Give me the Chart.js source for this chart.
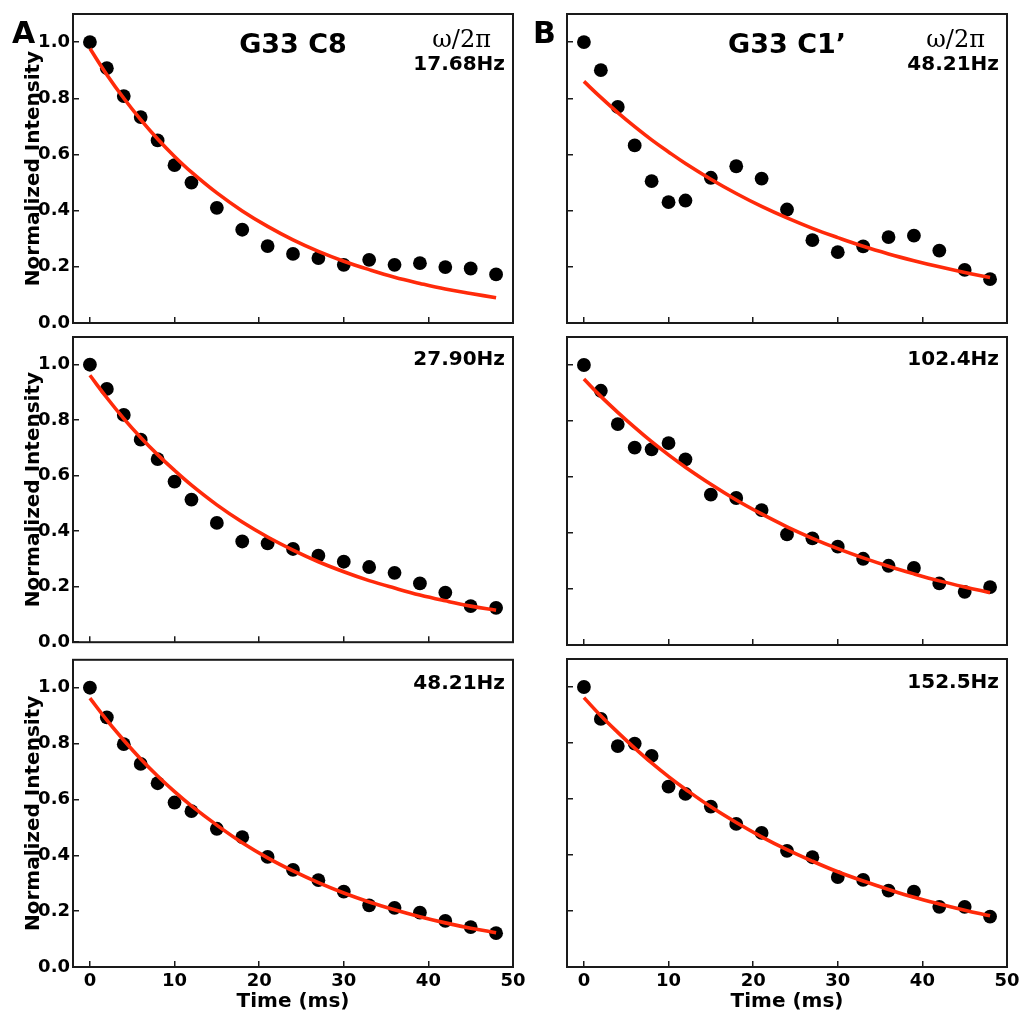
<!DOCTYPE html>
<html>
<head>
<meta charset="utf-8">
<script src="https://cdn.jsdelivr.net/npm/chart.js@4.4.1/dist/chart.umd.min.js"></script>
<style>
  html, body { margin: 0; padding: 0; background: #fff; }
  #wrap { position: relative; width: 1021px; height: 1016px; overflow: hidden; background: #fff; }
  #wrap canvas { position: absolute; }
</style>
</head>
<body>
<div id="wrap">
  <canvas id="a1"></canvas>
  <canvas id="b1"></canvas>
  <canvas id="a2"></canvas>
  <canvas id="b2"></canvas>
  <canvas id="a3"></canvas>
  <canvas id="b3"></canvas>
</div>
<script>
// relaxation delay times (ms)
const times = [0, 2, 4, 6, 8, 10, 12, 15, 18, 21, 24, 27, 30, 33, 36, 39, 42, 45, 48];
const xTicks = [0, 10, 20, 30, 40, 50];
const yTicks = [0, 0.2, 0.4, 0.6, 0.8, 1.0];

// G33 C8
const a1Points = [1.0, 0.907, 0.808, 0.733, 0.65, 0.562, 0.5, 0.41, 0.332, 0.274, 0.246, 0.231, 0.207, 0.225, 0.207, 0.213, 0.199, 0.194, 0.173];
const a1Fit = [0.977, 0.884, 0.80, 0.724, 0.655, 0.593, 0.537, 0.463, 0.399, 0.344, 0.296, 0.255, 0.22, 0.19, 0.163, 0.141, 0.121, 0.105, 0.09];
const a2Points = [1.0, 0.913, 0.819, 0.73, 0.66, 0.579, 0.514, 0.43, 0.363, 0.356, 0.336, 0.312, 0.29, 0.271, 0.25, 0.212, 0.179, 0.13, 0.124];
const a2Fit = [0.962, 0.881, 0.806, 0.738, 0.676, 0.619, 0.566, 0.495, 0.433, 0.379, 0.332, 0.29, 0.254, 0.222, 0.195, 0.17, 0.149, 0.13, 0.115];
const a3Points = [1.0, 0.894, 0.798, 0.727, 0.658, 0.589, 0.558, 0.495, 0.465, 0.394, 0.348, 0.311, 0.27, 0.221, 0.212, 0.195, 0.165, 0.143, 0.121];
const a3Fit = [0.963, 0.884, 0.812, 0.745, 0.684, 0.628, 0.577, 0.508, 0.445, 0.391, 0.344, 0.302, 0.265, 0.233, 0.205, 0.18, 0.158, 0.139, 0.123];

// G33 C1'
const b1Points = [1.0, 0.9, 0.769, 0.632, 0.505, 0.43, 0.436, 0.517, 0.558, 0.514, 0.404, 0.295, 0.252, 0.273, 0.306, 0.311, 0.258, 0.189, 0.156];
const b1Fit = [0.86, 0.803, 0.749, 0.699, 0.652, 0.609, 0.568, 0.512, 0.461, 0.415, 0.374, 0.337, 0.304, 0.273, 0.246, 0.222, 0.2, 0.18, 0.162];
const b2Points = [1.0, 0.908, 0.789, 0.705, 0.699, 0.721, 0.663, 0.537, 0.525, 0.482, 0.395, 0.381, 0.351, 0.308, 0.283, 0.275, 0.22, 0.19, 0.207];
const b2Fit = [0.95, 0.888, 0.831, 0.777, 0.726, 0.679, 0.635, 0.574, 0.518, 0.468, 0.422, 0.381, 0.344, 0.311, 0.281, 0.254, 0.229, 0.207, 0.187];
const b3Points = [1.0, 0.886, 0.789, 0.798, 0.754, 0.644, 0.618, 0.573, 0.511, 0.479, 0.415, 0.392, 0.321, 0.311, 0.273, 0.269, 0.215, 0.215, 0.18];
const b3Fit = [0.962, 0.897, 0.838, 0.782, 0.729, 0.68, 0.635, 0.572, 0.516, 0.465, 0.419, 0.378, 0.34, 0.307, 0.277, 0.249, 0.225, 0.203, 0.183];

const INK = '#1a1a1a';
const RED = '#ff2a0a';
const SANS = '"DejaVu Sans", sans-serif';

// canvas placement so that the plot areas line up with the figure
const cols = [
  { x: 0, w: 540, plotL: 73, plotR: 513 },
  { x: 520, w: 530, plotL: 47, plotR: 487 }
];
const rows = [
  { y: -10, h: 355, plotT: 24, plotB: 333, freqY: 56 },
  { y: 317, h: 345, plotT: 20, plotB: 328, freqY: 28 },
  { y: 640, h: 376, plotT: 19, plotB: 327, freqY: 29 }
];

const framePlugin = {
  id: 'frame',
  afterDatasetsDraw(chart) {
    const { ctx, chartArea: a } = chart;
    ctx.save();
    ctx.strokeStyle = INK;
    ctx.lineWidth = 2;
    ctx.strokeRect(a.left, a.top, a.right - a.left, a.bottom - a.top);
    ctx.restore();
  }
};

const labelPlugin = {
  id: 'panelText',
  afterDraw(chart, args, opts) {
    const { ctx, chartArea: a } = chart;
    ctx.save();
    ctx.fillStyle = '#000';
    ctx.textBaseline = 'alphabetic';
    if (opts.letter) {
      ctx.font = 'bold 30px ' + SANS;
      ctx.textAlign = 'left';
      ctx.fillText(opts.letter, opts.letterX, a.top + 29);
    }
    if (opts.title) {
      ctx.font = 'bold 27px ' + SANS;
      ctx.textAlign = 'center';
      ctx.fillText(opts.title, (a.left + a.right) / 2, a.top + 39);
      ctx.font = '24px "DejaVu Serif", serif';
      ctx.textAlign = 'right';
      ctx.fillText('ω/2π', a.right - 22, a.top + 33);
    }
    ctx.font = 'bold 20px ' + SANS;
    ctx.textAlign = 'right';
    ctx.fillText(opts.freq, a.right - 8, a.top + opts.freqY);
    ctx.restore();
  }
};

function makePanel(id, col, row, points, fit, text) {
  const c = cols[col], r = rows[row];
  const el = document.getElementById(id);
  el.width = c.w; el.height = r.h;
  el.style.left = c.x + 'px'; el.style.top = r.y + 'px';
  const showY = col === 0;
  const showX = row === 2;

  return new Chart(el.getContext('2d'), {
    type: 'scatter',
    data: {
      datasets: [
        {
          label: 'fit',
          data: times.map((t, i) => ({ x: t, y: fit[i] })),
          showLine: true,
          borderColor: RED,
          borderWidth: 3.6,
          tension: 0.4,
          pointRadius: 0,
          order: 0
        },
        {
          label: 'data',
          data: times.map((t, i) => ({ x: t, y: points[i] })),
          backgroundColor: '#000',
          borderWidth: 0,
          pointRadius: 6.9,
          order: 1
        }
      ]
    },
    options: {
      responsive: false,
      animation: false,
      layout: { padding: { left: 0, top: r.plotT, right: c.w - c.plotR, bottom: 0 } },
      plugins: {
        legend: { display: false },
        tooltip: { enabled: false },
        panelText: Object.assign({ freqY: r.freqY }, text)
      },
      scales: {
        x: {
          type: 'linear',
          min: -2,
          max: 50,
          afterBuildTicks: s => { s.ticks = xTicks.map(v => ({ value: v })); },
          afterFit: s => { s.height = r.h - r.plotB; },
          grid: { drawOnChartArea: false, drawTicks: true, tickLength: -6, color: INK, lineWidth: 1.5 },
          border: { display: false },
          ticks: {
            display: showX,
            padding: 10,
            color: '#000',
            font: { family: SANS, weight: 'bold', size: 18 }
          },
          title: {
            display: showX,
            text: 'Time (ms)',
            color: '#000',
            font: { family: SANS, weight: 'bold', size: 20 },
            padding: { top: 0, bottom: 2 }
          }
        },
        y: {
          min: 0,
          max: 1.1,
          afterBuildTicks: s => { s.ticks = yTicks.map(v => ({ value: v })); },
          afterFit: s => { s.width = c.plotL; },
          grid: { drawOnChartArea: false, drawTicks: true, tickLength: -6, color: INK, lineWidth: 1.5 },
          border: { display: false },
          ticks: {
            display: showY,
            padding: 9,
            color: '#000',
            font: { family: SANS, weight: 'bold', size: 18 },
            callback: v => v.toFixed(1)
          },
          title: {
            display: showY,
            text: 'Normalized Intensity',
            color: '#000',
            font: { family: SANS, weight: 'bold', size: 20 },
            padding: { top: 22, bottom: 0 }
          }
        }
      }
    },
    plugins: [framePlugin, labelPlugin]
  });
}

makePanel('a1', 0, 0, a1Points, a1Fit, { letter: 'A', letterX: 12, title: 'G33 C8', freq: '17.68Hz' });
makePanel('b1', 1, 0, b1Points, b1Fit, { letter: 'B', letterX: 13, title: 'G33 C1’', freq: '48.21Hz' });
makePanel('a2', 0, 1, a2Points, a2Fit, { freq: '27.90Hz' });
makePanel('b2', 1, 1, b2Points, b2Fit, { freq: '102.4Hz' });
makePanel('a3', 0, 2, a3Points, a3Fit, { freq: '48.21Hz' });
makePanel('b3', 1, 2, b3Points, b3Fit, { freq: '152.5Hz' });
</script>
</body>
</html>
